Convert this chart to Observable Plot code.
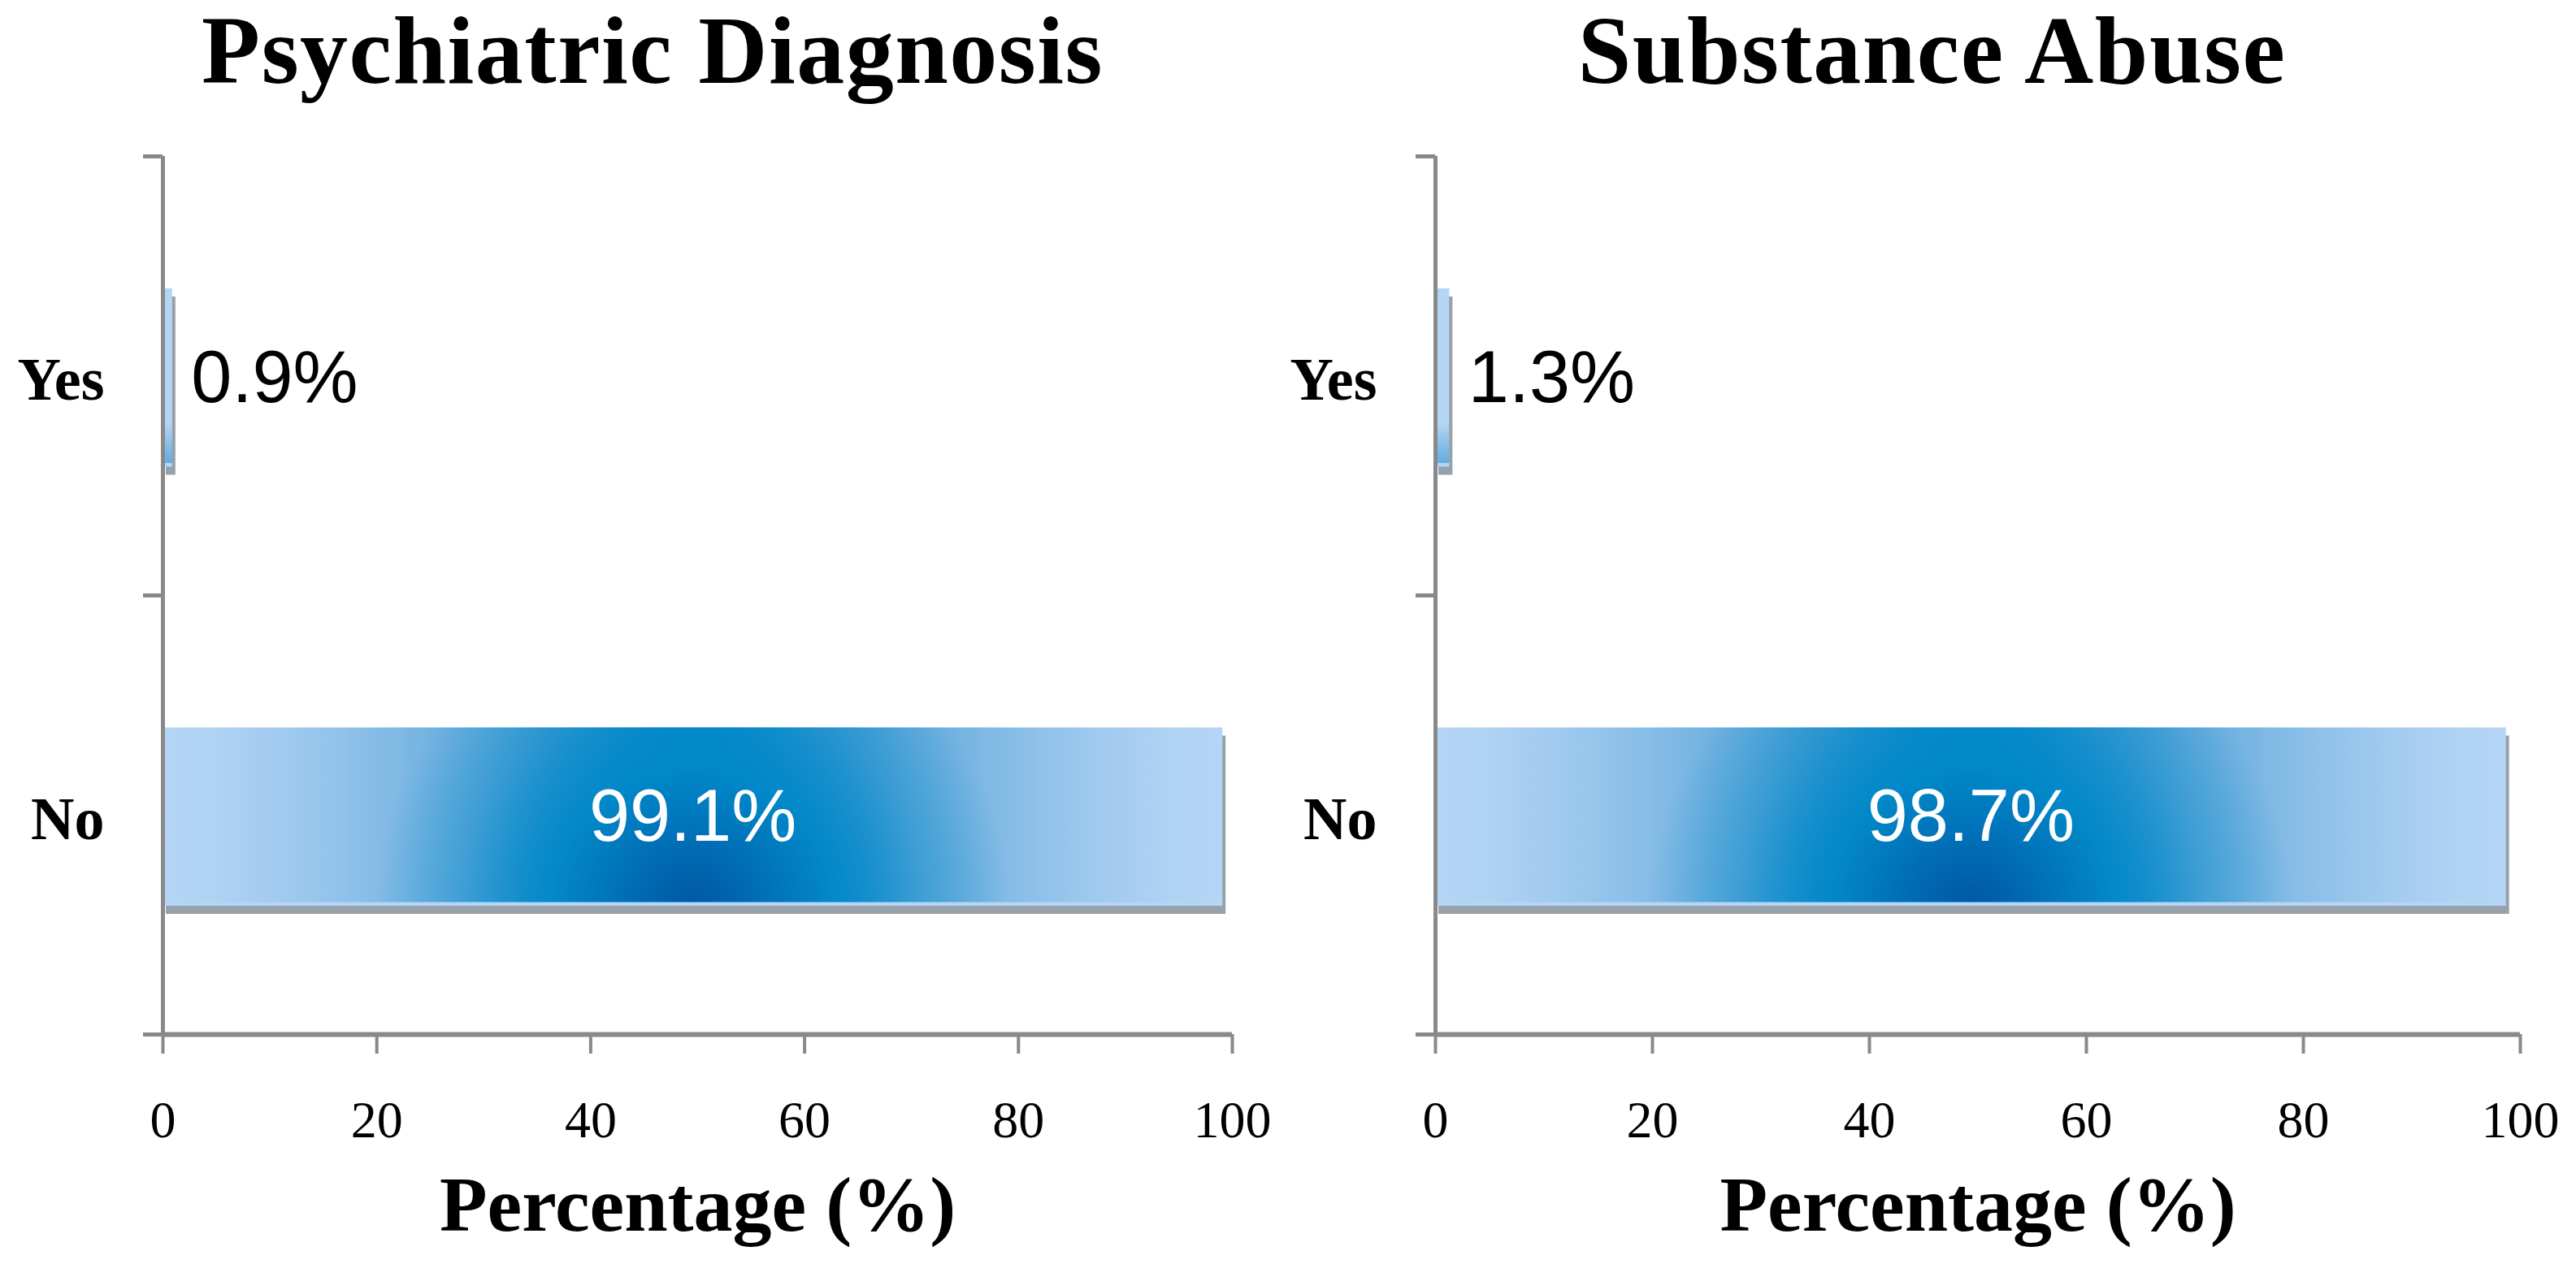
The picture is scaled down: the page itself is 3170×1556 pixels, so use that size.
<!DOCTYPE html>
<html>
<head>
<meta charset="utf-8">
<script src="https://cdn.jsdelivr.net/npm/d3@7"></script>
<script src="https://cdn.jsdelivr.net/npm/@observablehq/plot@0.6"></script>
<style>
  html, body { margin: 0; padding: 0; background: #fff; }
  #wrap { display: flex; width: 3170px; height: 1556px; }
  .panel { width: 1585px; height: 1556px; }
  .title {
    height: 170px; box-sizing: border-box; padding-top: 4px;
    font-family: "Liberation Serif", "Times New Roman", serif; font-weight: bold;
    font-size: 118px; line-height: 1; text-align: center; color: #000;
    letter-spacing: 1.5px; white-space: nowrap;
  }
</style>
</head>
<body>
<svg width="0" height="0" style="position:absolute">
  <defs>
    <linearGradient id="gNo" x1="0" y1="0" x2="1" y2="0">
      <stop offset="0" stop-color="#b4d5f5"/>
      <stop offset="0.05" stop-color="#b0d2f3"/>
      <stop offset="0.13" stop-color="#9cc8ee"/>
      <stop offset="0.22" stop-color="#80b9e4"/>
      <stop offset="0.3" stop-color="#62aadc"/>
      <stop offset="0.37" stop-color="#3f9bd3"/>
      <stop offset="0.44" stop-color="#1a8ecc"/>
      <stop offset="0.5" stop-color="#0088c8"/>
      <stop offset="0.56" stop-color="#1a8ecc"/>
      <stop offset="0.63" stop-color="#3f9bd3"/>
      <stop offset="0.7" stop-color="#62aadc"/>
      <stop offset="0.78" stop-color="#80b9e4"/>
      <stop offset="0.87" stop-color="#9cc8ee"/>
      <stop offset="0.95" stop-color="#b0d2f3"/>
      <stop offset="1" stop-color="#b4d5f5"/>
    </linearGradient>
    <radialGradient id="gNoDark" cx="0.5" cy="1" r="1"
      gradientTransform="translate(0.5 1) scale(0.3 1.7) translate(-0.5 -1)">
      <stop offset="0" stop-color="#0058a2" stop-opacity="1"/>
      <stop offset="0.18" stop-color="#006ab3" stop-opacity="1"/>
      <stop offset="0.45" stop-color="#0088c8" stop-opacity="0.95"/>
      <stop offset="0.72" stop-color="#0088c8" stop-opacity="0.4"/>
      <stop offset="1" stop-color="#0088c8" stop-opacity="0"/>
    </radialGradient>
    <linearGradient id="gThin" x1="0" y1="0" x2="0" y2="1">
      <stop offset="0" stop-color="#b4d5f5"/>
      <stop offset="0.76" stop-color="#b4d5f5"/>
      <stop offset="0.8" stop-color="#a5ccef"/>
      <stop offset="1" stop-color="#5aa8de"/>
    </linearGradient>
    <filter id="soft" filterUnits="userSpaceOnUse" x="-200" y="-200" width="2200" height="2000">
      <feGaussianBlur stdDeviation="5"/>
    </filter>
  </defs>
</svg>
<div id="wrap"></div>
<script>
// ---- data ----
const categories = ["Yes", "No"];
const psychiatric = [0.9, 99.1];
const substance = [1.3, 98.7];
const titles = ["Psychiatric Diagnosis", "Substance Abuse"];
const xTicks = [0, 20, 40, 60, 80, 100];
const xLabel = "Percentage (%)";

const serif = "Liberation Serif, Times New Roman, serif";
const sans = "Liberation Sans, Arial, Helvetica, sans-serif";
const grey = "#898989";

function panel(title, values, marginLeft, titlePad) {
  const rows = categories.map((c, i) => ({category: c, index: i, value: values[i]}));
  const big = d => d.value >= 50;
  const small = d => d.value < 50;
  const y1 = "index";
  const y2 = d => d.index + 1;
  const barInsets = {insetTop: 163, insetBottom: 158};
  const fmt = d => `${d.value.toFixed(1)}%`;

  const svg = Plot.plot({
    width: 1585,
    height: 1386,
    marginTop: 22,
    marginBottom: 283,
    marginLeft,
    marginRight: 69,
    x: {domain: [0, 100]},
    y: {domain: [0, categories.length], reverse: true},
    style: {background: "white", overflow: "visible", color: "#000"},
    marks: [
      // soft shadow under the bars
      Plot.rect(rows, {x1: 0, x2: "value", y1, y2, ...barInsets, dx: 4, dy: 10,
        fill: "#5f6f7c", fillOpacity: 0.65, ariaLabel: "bar-shadow"}),
      // large bars: horizontal gradient + dark radial glow from bottom center
      Plot.rect(rows, {filter: big, x1: 0, x2: "value", y1, y2, ...barInsets, fill: "url(#gNo)"}),
      Plot.rect(rows, {filter: big, x1: 0, x2: "value", y1, y2, ...barInsets, fill: "url(#gNoDark)"}),
      // thin bars
      Plot.rect(rows, {filter: small, x1: 0, x2: "value", y1, y2, ...barInsets, fill: "url(#gThin)"}),
      // bottom bevel strip
      Plot.rect(rows, {x1: 0, x2: "value", y1, y2, insetTop: 378, insetBottom: 158, fill: "#b4d5f5"}),
      // axis lines
      Plot.ruleX([0], {stroke: grey, strokeWidth: 5}),
      Plot.ruleY([categories.length], {stroke: grey, strokeWidth: 6}),
      // category boundary ticks
      Plot.axisY({ticks: d3.range(categories.length + 1), tickSize: 24, tickFormat: () => "",
        stroke: grey, strokeWidth: 5, label: null}),
      // category labels
      Plot.axisY({ticks: categories.map((c, i) => i + 0.5), tickSize: 0, tickPadding: 72,
        tickFormat: v => categories[Math.floor(v)], fontSize: 74, fontWeight: "bold",
        fontFamily: serif, fill: "#000", dy: 6, label: null}),
      // x axis
      Plot.axisX({ticks: xTicks, tickSize: 24, tickPadding: 57, tickFormat: d => String(d),
        stroke: grey, strokeWidth: 4, fontSize: 64, fontFamily: serif, fill: "#000", label: null}),
      Plot.text([xLabel], {frameAnchor: "bottom", dy: 211, text: d => d, fontSize: 96,
        fontWeight: "bold", fontFamily: serif, fill: "#000", lineAnchor: "middle"}),
      // value labels
      Plot.text(rows, {filter: big, x: d => d.value / 2, y: d => d.index + 0.5, text: fmt,
        fill: "white", fontSize: 90, fontFamily: sans, dy: 3, lineAnchor: "middle"}),
      Plot.text(rows, {filter: small, x: "value", y: d => d.index + 0.5, text: fmt,
        fill: "#000", fontSize: 90, fontFamily: sans, textAnchor: "start", dx: 23, dy: 3, lineAnchor: "middle"})
    ]
  });
  const sh = svg.querySelector('[aria-label="bar-shadow"]');
  if (sh) sh.setAttribute("filter", "url(#soft)");

  const div = document.createElement("div");
  div.className = "panel";
  const h = document.createElement("div");
  h.className = "title";
  h.style.paddingLeft = titlePad + "px";
  h.textContent = title;
  div.appendChild(h);
  div.appendChild(svg);
  return div;
}

const wrap = document.getElementById("wrap");
wrap.appendChild(panel(titles[0], psychiatric, 200, 21));
wrap.appendChild(panel(titles[1], substance, 181, 0));
</script>
</body>
</html>
